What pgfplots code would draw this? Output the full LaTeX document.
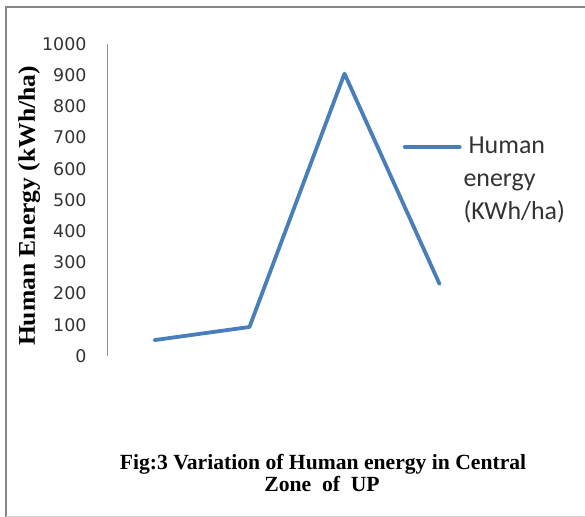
\documentclass[border=0pt]{standalone}
\usepackage{fontspec}
\setmainfont{Liberation Serif}
\newfontfamily\tickfont{DejaVu Sans}
\newfontfamily\legfont{Carlito}
\usepackage{pgfplots}
\pgfplotsset{compat=1.18}
\definecolor{exblue}{HTML}{4A7EBB}
\begin{document}
\begin{tikzpicture}
\useasboundingbox (0bp,0bp) rectangle (585bp,517bp);
\fill[white] (0bp,0bp) rectangle (585bp,517bp);
\draw[line width=2bp, color=gray!95] (6bp,0bp) -- (6bp,510bp) -- (585bp,510bp);
\draw[line width=1bp, color=gray!35] (6bp,1bp) -- (585bp,1bp);
\begin{axis}[
  at={(107bp,161bp)}, anchor=south west,
  scale only axis, width=380bp, height=312bp,
  xmin=0.5, xmax=4.5, ymin=0, ymax=1000,
  axis x line=none, axis y line*=left,
  y axis line style={color=gray!85, line width=0.9bp, -},
  xtick=\empty, ytick={0,100,...,1000},
  major tick length=0pt,
  /pgf/number format/assume math mode=true,
  /pgf/number format/1000 sep={},
  yticklabel style={font=\tickfont\fontsize{17.5}{19}\selectfont, color=black!80, anchor=east, xshift=-17bp},
  ylabel={Human Energy (kWh/ha)},
  every axis y label/.style={at={(axis description cs:-0.1895,0.481)}, rotate=90, xscale=1.07, anchor=base, font=\bfseries\fontsize{24}{26}\selectfont},
  clip=false,
  legend style={draw=none, fill=none, at={(axis description cs:0.77,0.715)}, anchor=north west, font=\legfont\fontsize{26}{33}\selectfont, cells={anchor=base west}, text=black!80},
  legend image code/.code={\draw[#1] (0bp,7bp) -- (55bp,7bp);},
]
\addplot[exblue, line width=3.8bp, line join=round, line cap=round] coordinates {(1,51) (2,93) (3,905) (4,231)};
\addlegendentry{\vtop{\hbox{\hspace{5bp}Human}\hbox{energy}\hbox{(KWh/ha)}}}
\end{axis}
\node[anchor=base, font=\bfseries\fontsize{21.7}{24}\selectfont] at (323bp,47bp) {Fig:3 Variation of Human energy in Central};
\node[anchor=base, font=\bfseries\fontsize{21.7}{24}\selectfont] at (322bp,26bp) {Zone\ \ of\ \ UP};
\end{tikzpicture}
\end{document}
